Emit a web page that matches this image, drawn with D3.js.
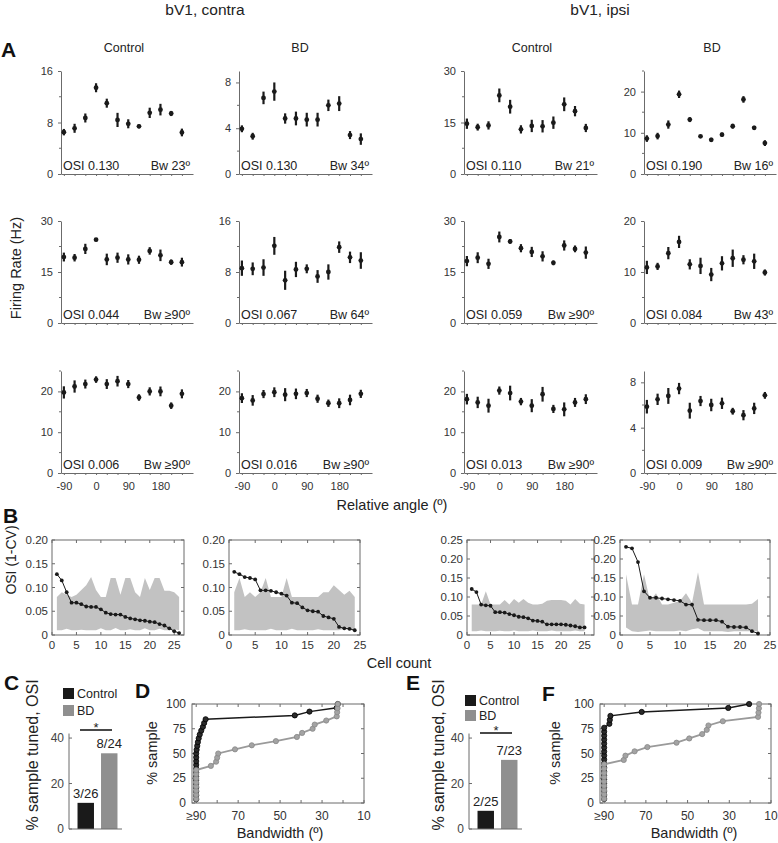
<!DOCTYPE html>
<html><head><meta charset="utf-8">
<script src="https://cdn.jsdelivr.net/npm/d3@7"></script>
<style>body{margin:0;background:#fff;} svg{display:block;}</style>
</head><body>
<script>
// ================= DATA =================
const angles = [-90,-60,-30,0,30,60,90,120,150,180,210,240];
const angleTickLabels = [-90,0,90,180];

// Panel A example cells (mean firing rate, Hz, and error)
const cC1 = [6.5,7.1,8.7,13.4,11.0,8.4,7.8,7.4,9.5,10.0,9.4,6.45];
const cC1Err = [0.5,0.7,0.7,0.7,0.7,1.1,0.7,0.3,0.8,0.9,0.4,0.6];
const cB1 = [3.95,3.3,6.65,7.2,4.85,4.85,4.75,4.75,6.0,6.15,3.4,3.05];
const cB1Err = [0.3,0.3,0.55,0.8,0.45,0.6,0.6,0.6,0.5,0.65,0.35,0.5];
const iC1 = [14.65,13.65,14.15,22.9,19.6,13.0,14.0,13.9,14.95,20.3,18.3,13.4];
const iC1Err = [1.5,1.0,1.2,2.0,2.0,1.2,1.8,1.8,1.8,2.0,1.5,1.2];
const iB1 = [8.6,9.2,12.0,19.35,13.2,9.15,8.3,9.55,11.6,18.1,11.2,7.5];
const iB1Err = [0.8,0.8,1.0,0.9,0.6,0.3,0.5,0.5,0.6,0.8,0.5,0.7];

const cC2 = [19.4,19.2,21.8,24.5,18.7,19.2,18.7,18.6,21.2,19.9,17.9,17.9];
const cC2Err = [1.3,1.1,1.5,0.5,1.7,1.5,1.5,1.2,1.1,1.7,0.8,1.3];
const cB2 = [8.6,8.5,8.7,12.1,6.7,8.4,8.5,7.3,8.0,11.9,10.3,9.8];
const cB2Err = [1.2,1.0,1.3,1.4,1.5,1.2,0.7,1.0,1.2,0.9,0.9,1.3];
const iC2 = [18.2,19.2,17.4,25.3,24.0,22.0,20.9,19.6,17.7,22.8,21.8,20.7];
const iC2Err = [1.5,1.6,1.5,1.6,0.7,1.2,1.5,1.5,0.7,1.5,1.0,1.8];
const iB2 = [10.9,11.1,13.7,15.9,11.5,11.2,9.5,11.7,12.7,12.4,12.1,9.9];
const iB2Err = [1.3,0.7,1.2,1.2,1.0,1.6,1.3,1.4,1.7,0.9,1.5,0.6];

const cC3 = [19.75,21.2,21.8,22.9,21.8,22.5,21.8,18.5,20.0,20.0,16.5,19.4];
const cC3Err = [1.5,1.5,1.1,0.8,1.2,1.3,1.0,0.8,1.0,1.2,0.8,1.1];
const cB3 = [18.35,17.8,19.35,19.8,19.2,19.4,19.6,18.2,17.1,17.1,17.9,19.4];
const cB3Err = [1.2,1.3,1.0,1.2,1.6,1.3,1.0,1.0,0.9,1.2,1.3,1.0];
const iC3 = [18.1,17.3,16.5,20.2,19.6,17.5,16.5,19.3,15.7,15.6,17.3,18.1];
const iC3Err = [1.3,1.4,1.7,1.0,1.8,0.9,1.6,1.8,1.0,1.7,1.1,1.2];
const iB3 = [5.85,6.5,6.8,7.45,5.5,6.35,6.0,6.15,5.45,5.1,5.7,6.85];
const iB3Err = [0.6,0.5,0.7,0.5,0.7,0.45,0.55,0.5,0.3,0.45,0.5,0.3];

const osiText = [["0.130","0.130","0.110","0.190"],["0.044","0.067","0.059","0.084"],["0.006","0.016","0.013","0.009"]];
const bwText = [["23º","34º","21º","16º"],["≥90º","64º","≥90º","43º"],["≥90º","≥90º","≥90º","≥90º"]];
const aYMax = [[16,9,30,25],[30,16,30,20],[25,25,25,9]];

// Panel B: sorted OSI per cell and shuffled range (lo/hi)
const b1Osi = [0.128,0.115,0.090,0.068,0.068,0.065,0.060,0.059,0.059,0.054,0.047,0.044,0.043,0.043,0.038,0.035,0.033,0.031,0.030,0.028,0.027,0.023,0.020,0.014,0.008,0.004];
const b1Hi = [0.080,0.090,0.085,0.080,0.085,0.095,0.105,0.122,0.095,0.080,0.080,0.120,0.120,0.085,0.120,0.120,0.090,0.080,0.120,0.095,0.120,0.120,0.093,0.093,0.090,0.080];
const b1Lo = [0.010,0.010,0.013,0.010,0.010,0.011,0.010,0.010,0.010,0.014,0.010,0.010,0.015,0.010,0.010,0.012,0.010,0.010,0.014,0.010,0.010,0.013,0.010,0.010,0.012,0.010];
const b2Osi = [0.133,0.128,0.122,0.120,0.117,0.094,0.094,0.093,0.090,0.087,0.083,0.068,0.067,0.058,0.052,0.050,0.049,0.040,0.037,0.034,0.017,0.014,0.013,0.010];
const b2Hi = [0.090,0.120,0.080,0.090,0.080,0.090,0.120,0.080,0.080,0.080,0.120,0.080,0.080,0.080,0.080,0.080,0.080,0.090,0.090,0.105,0.095,0.085,0.093,0.080];
const b2Lo = [0.010,0.010,0.012,0.010,0.010,0.010,0.010,0.013,0.010,0.010,0.010,0.013,0.010,0.010,0.010,0.010,0.012,0.010,0.010,0.010,0.010,0.013,0.010,0.010];
const b3Osi = [0.121,0.113,0.080,0.078,0.077,0.060,0.060,0.059,0.055,0.052,0.048,0.047,0.044,0.038,0.037,0.035,0.028,0.028,0.028,0.028,0.027,0.025,0.023,0.020,0.020];
const b3Hi = [0.080,0.080,0.080,0.115,0.080,0.080,0.080,0.092,0.080,0.095,0.085,0.095,0.085,0.080,0.080,0.082,0.090,0.092,0.092,0.092,0.090,0.080,0.095,0.082,0.080];
const b3Lo = [0.010,0.010,0.012,0.010,0.010,0.010,0.011,0.010,0.010,0.012,0.010,0.010,0.010,0.012,0.010,0.010,0.010,0.012,0.010,0.010,0.010,0.010,0.012,0.010,0.010];
const b4Osi = [0.232,0.228,0.192,0.115,0.098,0.098,0.096,0.094,0.092,0.090,0.080,0.080,0.040,0.039,0.039,0.039,0.035,0.022,0.021,0.021,0.020,0.010,0.004];
const b4Hi = [0.160,0.080,0.080,0.160,0.090,0.110,0.080,0.080,0.085,0.090,0.110,0.085,0.165,0.080,0.080,0.080,0.080,0.080,0.080,0.080,0.080,0.082,0.095];
const b4Lo = [0.020,0.010,0.008,0.010,0.012,0.010,0.010,0.010,0.010,0.012,0.010,0.015,0.018,0.010,0.010,0.010,0.010,0.008,0.010,0.010,0.010,0.010,0.010];

// Panels C / E: % sample tuned
const groups = ["Control","BD"];
const cPct = [11.5,33.3];
const cFrac = ["3/26","8/24"];
const ePct = [8.0,30.4];
const eFrac = ["2/25","7/23"];

// Panels D / F: cumulative bandwidth distributions
const dCtrlBw = [90,90,90,90,90,90,90,90,90,90,90,90,90,89.8,89.5,89.2,88.8,88.3,87.6,86.8,86.2,85.5,43,36,23,22.5];
const dCtrlPct = [3.8,7.7,11.5,15.4,19.2,23.1,26.9,30.8,34.6,38.5,42.3,46.2,50.0,53.8,57.7,61.5,65.4,69.2,73.1,76.9,80.8,84.6,88.5,92.3,96.2,100];
const dBdBw = [90,90,90,90,90,90,90,90,83,80.5,80,79.5,71.5,63.5,52,42,39.5,34.5,33.5,28,23,22.8,22.6,22.5];
const dBdPct = [4.2,8.3,12.5,16.7,20.8,25.0,29.2,33.3,37.5,41.7,45.8,50.0,54.2,58.3,62.5,66.7,70.8,75.0,79.2,83.3,87.5,91.7,95.8,100];
const fCtrlBw = [90,90,90,90,90,90,90,90,90,90,90,90,90,90,90,90,90,90,90,87.5,87.3,87,72,30.5,20.5];
const fCtrlPct = [4,8,12,16,20,24,28,32,36,40,44,48,52,56,60,64,68,72,76,80,84,88,92,96,100];
const fBdBw = [90,90,90,90,90,90,90,90,90,80.6,79.8,75.4,69.3,55.3,49.2,43,40.8,40,33.1,16.2,16,15.8,15.7];
const fBdPct = [4.3,8.7,13.0,17.4,21.7,26.1,30.4,34.8,39.1,43.5,47.8,52.2,56.5,60.9,65.2,69.6,73.9,78.3,82.6,87.0,91.3,95.7,100];
const bwTicks = [90,70,50,30,10];
const bwMinor = [90,80,70,60,50,40,30,20,10];
const pctTicks = [0,25,50,75,100];

// ================= DRAWING =================
const FONT = "'Liberation Sans', Arial, Helvetica, sans-serif";
const AX = "#6b6b6b", TXT = "#222", BLK = "#1a1a1a", GRY = "#8f8f8f";
const svg = d3.select("body").append("svg").attr("width",778).attr("height",843).style("font-family",FONT);

function txt(x,y,s,size,o={}){
  const t = svg.append("text").attr("x",x).attr("y",y).attr("font-size",size).attr("fill",o.fill||TXT)
    .attr("text-anchor",o.anchor||"start").text(s);
  if(o.bold) t.attr("font-weight","bold");
  return t;
}
function vtxt(cx,cy,s,size){
  svg.append("text").attr("transform",`translate(${cx},${cy}) rotate(-90)`).attr("dy","0.35em")
    .attr("text-anchor","middle").attr("font-size",size).attr("fill",TXT).text(s);
}

// ---- Titles & panel letters
txt(205,15,"bV1, contra",15.5,{anchor:"middle"});
txt(600,15,"bV1, ipsi",15.5,{anchor:"middle"});
[["A",1,57],["B",3,523],["C",4,690],["D",135,698],["E",406,690],["F",542,701]].forEach(d=>txt(d[1],d[2],d[0],21,{bold:true,fill:"#111"}));
[[124,"Control"],[300,"BD"],[532,"Control"],[712,"BD"]].forEach(d=>txt(d[0],52,d[1],12.5,{anchor:"middle"}));

// ---- Panel A
const aCols = [[61,193],[239,372],[464,597],[644,776]];
const aRows = [[71,174],[221,323],[371,473]];
const aMeans = [[cC1,cB1,iC1,iB1],[cC2,cB2,iC2,iB2],[cC3,cB3,iC3,iB3]];
const aErrs = [[cC1Err,cB1Err,iC1Err,iB1Err],[cC2Err,cB2Err,iC2Err,iB2Err],[cC3Err,cB3Err,iC3Err,iB3Err]];
const majorFor = m => ({16:[0,8,16],9:[0,4,8],30:[0,15,30],25:[0,10,20],20:[0,10,20]})[m];

aRows.forEach((row,r)=>{
  aCols.forEach((col,c)=>{
    const yMax = aYMax[r][c];
    const x = d3.scaleLinear().domain([-98,271]).range(col);
    const y = d3.scaleLinear().domain([0,yMax]).range([row[1],row[0]]);
    const g = svg.append("g");
    const major = majorFor(yMax);
    const step = (major[1]-major[0])/2;
    const minor = d3.range(0,yMax+1e-6,step).filter(v=>!major.includes(v));
    const ya = g.append("g").attr("transform",`translate(${col[0]},0)`)
      .call(d3.axisLeft(y).tickValues(major).tickSize(3).tickSizeOuter(0).tickPadding(5));
    minor.forEach(v=>g.append("line").attr("x1",col[0]-2).attr("x2",col[0]).attr("y1",y(v)).attr("y2",y(v)).attr("stroke",AX));
    const xa = g.append("g").attr("transform",`translate(0,${row[1]})`)
      .call(d3.axisBottom(x).tickValues(angles).tickSize(2).tickSizeOuter(0).tickPadding(7)
        .tickFormat(d => (r===2 && angleTickLabels.includes(d)) ? String(d) : ""));
    [ya,xa].forEach(a=>{
      a.selectAll("path,line").attr("stroke",AX);
      a.selectAll("text").attr("font-size",11).attr("fill","#333").attr("font-family",FONT);
    });
    const m = aMeans[r][c], e = aErrs[r][c];
    g.selectAll(".eb").data(m).enter().append("line")
      .attr("x1",(d,i)=>x(angles[i])).attr("x2",(d,i)=>x(angles[i]))
      .attr("y1",(d,i)=>y(d-e[i])).attr("y2",(d,i)=>y(d+e[i]))
      .attr("stroke",BLK).attr("stroke-width",2.2);
    g.selectAll(".pt").data(m).enter().append("circle")
      .attr("cx",(d,i)=>x(angles[i])).attr("cy",d=>y(d)).attr("r",2.4).attr("fill",BLK);
    txt(col[0]+2,row[1]-4,"OSI "+osiText[r][c],12.5);
    txt(col[1]-3,row[1]-4,"Bw "+bwText[r][c],12.5,{anchor:"end"});
  });
});
vtxt(16,268,"Firing Rate (Hz)",14.5);
txt(392,510,"Relative angle (º)",14.5,{anchor:"middle"});

// ---- Generic boxed axes (MATLAB style, ticks inside)
function boxAxes(xs,ys,xT,yT,xFmt,yFmt,o){
  const [x0,x1] = xs.range(), [yb,yt] = ys.range();
  const g = svg.append("g");
  g.append("rect").attr("x",x0).attr("y",yt).attr("width",x1-x0).attr("height",yb-yt)
    .attr("fill","none").attr("stroke",AX).attr("stroke-width",1);
  const tl = 3;
  (o.xMinor||xT).forEach(v=>{const p=xs(v);
    g.append("line").attr("x1",p).attr("x2",p).attr("y1",yb).attr("y2",yb-tl).attr("stroke",AX);
    g.append("line").attr("x1",p).attr("x2",p).attr("y1",yt).attr("y2",yt+tl).attr("stroke",AX);});
  yT.forEach(v=>{const p=ys(v);
    g.append("line").attr("x1",x0).attr("x2",x0+tl).attr("y1",p).attr("y2",p).attr("stroke",AX);
    g.append("line").attr("x1",x1).attr("x2",x1-tl).attr("y1",p).attr("y2",p).attr("stroke",AX);});
  xT.forEach(v=>txt(xs(v),o.xLabY,xFmt(v),o.fs,{anchor:"middle",fill:"#333"}));
  yT.forEach(v=>svg.append("text").attr("x",x0-o.yPad).attr("y",ys(v)).attr("dy","0.35em")
    .attr("text-anchor","end").attr("font-size",o.fs).attr("fill","#333").text(yFmt(v)));
  return g;
}

// ---- Panel B
const bPanels = [
  {x:[52,184], n:27, yMax:0.2, osi:b1Osi, lo:b1Lo, hi:b1Hi},
  {x:[229,360], n:25, yMax:0.2, osi:b2Osi, lo:b2Lo, hi:b2Hi},
  {x:[467,594], n:27, yMax:0.25, osi:b3Osi, lo:b3Lo, hi:b3Hi},
  {x:[620,770], n:25, yMax:0.25, osi:b4Osi, lo:b4Lo, hi:b4Hi}
];
bPanels.forEach(p=>{
  const xs = d3.scaleLinear().domain([0,p.n]).range(p.x);
  const ys = d3.scaleLinear().domain([0,p.yMax]).range([635,540]);
  const cells = p.osi.map((d,i)=>i+1);
  svg.append("path").datum(cells)
    .attr("d",d3.area().x(c=>xs(c)).y0(c=>ys(p.lo[c-1])).y1(c=>ys(p.hi[c-1])))
    .attr("fill","#c2c2c2");
  const yT = d3.range(0,p.yMax+1e-6,0.05);
  boxAxes(xs,ys,[0,5,10,15,20,25],yT,v=>String(v),v=>v===0?"0":v.toFixed(2),{fs:11.5,xLabY:649,yPad:4});
  svg.append("path").datum(cells)
    .attr("d",d3.line().x(c=>xs(c)).y(c=>ys(p.osi[c-1])))
    .attr("fill","none").attr("stroke",BLK).attr("stroke-width",1);
  svg.selectAll(null).data(cells).enter().append("circle")
    .attr("cx",c=>xs(c)).attr("cy",c=>ys(p.osi[c-1])).attr("r",1.9).attr("fill",BLK);
});
vtxt(11,560,"OSI (1-CV)",14);
txt(399,668,"Cell count",14.5,{anchor:"middle"});

// ---- Panels C & E
function barPanel(ax, bandRange, pct, frac, leg, sig, labX){
  const y = d3.scaleLinear().domain([0,42]).range([829,733.5]);
  const x = d3.scaleBand().domain(groups).range(bandRange).paddingInner(0.3).paddingOuter(0.15);
  const g = svg.append("g");
  g.selectAll(null).data(groups).enter().append("rect")
    .attr("x",d=>x(d)).attr("width",x.bandwidth())
    .attr("y",(d,i)=>y(pct[i])).attr("height",(d,i)=>y(0)-y(pct[i]))
    .attr("fill",(d,i)=>i===0?BLK:GRY);
  g.append("line").attr("x1",ax).attr("x2",ax).attr("y1",y(42)).attr("y2",y(0)).attr("stroke",AX);
  g.append("line").attr("x1",ax).attr("x2",bandRange[1]+1).attr("y1",y(0)).attr("y2",y(0)).attr("stroke",AX);
  [0,20,40].forEach(v=>{
    g.append("line").attr("x1",ax).attr("x2",ax+3).attr("y1",y(v)).attr("y2",y(v)).attr("stroke",AX);
    svg.append("text").attr("x",ax-5).attr("y",y(v)).attr("dy","0.35em").attr("text-anchor","end")
      .attr("font-size",12).attr("fill","#444").text(v);
  });
  groups.forEach((gname,i)=>txt(x(gname)+x.bandwidth()/2,y(pct[i])-5,frac[i],13,{anchor:"middle"}));
  // significance
  g.append("line").attr("x1",sig[0]).attr("x2",sig[1]).attr("y1",sig[2]).attr("y2",sig[2]).attr("stroke",BLK).attr("stroke-width",1.6);
  txt((sig[0]+sig[1])/2,sig[2]+2,"*",13,{anchor:"middle"});
  // legend
  groups.forEach((gname,i)=>{
    g.append("rect").attr("x",leg[0]).attr("y",leg[1]+i*leg[2]).attr("width",11).attr("height",11).attr("fill",i===0?BLK:GRY);
    txt(leg[0]+14,leg[1]+i*leg[2]+10,gname,12.5);
  });
  vtxt(labX,755,"% sample tuned, OSI",16);
}
barPanel(69,[74,121],cPct,cFrac,[63,688,17],[80,112,730],32);
barPanel(469,[474,521],ePct,eFrac,[465,695,15],[480,512,733],438);

// ---- Panels D & F
function cdfPanel(xr, ctrlBw, ctrlPct, bdBw, bdPct, ylabX, xlabX){
  const xs = d3.scaleLinear().domain([92,10]).range(xr);
  const ys = d3.scaleLinear().domain([0,100]).range([803,704]);
  boxAxes(xs,ys,bwTicks,pctTicks,v=>v===90?"≥90":String(v),v=>String(v),{fs:12,xLabY:820,yPad:6,xMinor:bwMinor});
  const line = d3.line().x(d=>xs(d[0])).y(d=>ys(d[1]));
  const sets = [[ctrlBw,ctrlPct,"#1a1a1a","#2b2b2b","#000",1.5],[bdBw,bdPct,"#9a9a9a","#a3a3a3","#888",1.8]];
  sets.forEach(s=>{
    const pts = s[0].map((b,i)=>[b,s[1][i]]);
    svg.append("path").datum(pts).attr("d",line).attr("fill","none").attr("stroke",s[2]).attr("stroke-width",s[5]);
    svg.selectAll(null).data(pts).enter().append("circle")
      .attr("cx",d=>xs(d[0])).attr("cy",d=>ys(d[1])).attr("r",2.6)
      .attr("fill",s[3]).attr("stroke",s[4]).attr("stroke-width",0.8);
  });
  vtxt(ylabX,753,"% sample",14.5);
  txt(xlabX,838,"Bandwidth (º)",14.5,{anchor:"middle"});
}
cdfPanel([192,364],dCtrlBw,dCtrlPct,dBdBw,dBdPct,152,280);
cdfPanel([600,771],fCtrlBw,fCtrlPct,fBdBw,fBdPct,555,694);
</script>
</body></html>
